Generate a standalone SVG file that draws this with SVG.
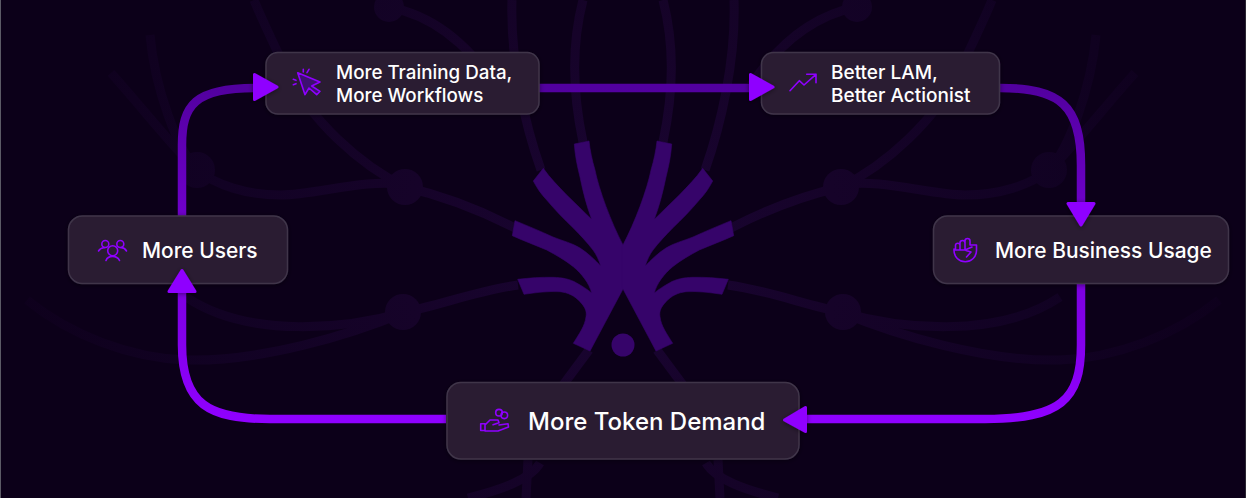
<svg xmlns="http://www.w3.org/2000/svg" width="1246" height="498" viewBox="0 0 1246 498">
<defs>
<linearGradient id="flow" gradientUnits="userSpaceOnUse" x1="0" y1="88" x2="0" y2="420"><stop offset="0" stop-color="#52009f"/><stop offset="0.5" stop-color="#7800d8"/><stop offset="1" stop-color="#8f00ff"/></linearGradient>
<radialGradient id="fade" gradientUnits="userSpaceOnUse" cx="623" cy="249" r="620"><stop offset="0" stop-color="#1a0433"/><stop offset="0.35" stop-color="#160329"/><stop offset="0.65" stop-color="#120224"/><stop offset="1" stop-color="#0e001c"/></radialGradient>
<filter id="sh" x="-40%" y="-40%" width="180%" height="180%"><feDropShadow dx="0" dy="1" stdDeviation="2.500" flood-color="#000" flood-opacity="0.45"/></filter>
<g id="half">
<path class="faint" d="M515,228C480,210 440,195 405,187C360,165 310,120 286,70C272,40 262,20 254,0"/>
<path class="faint" d="M405,185C366,178 316,195 281,195C246,195 216,185 197,170"/>
<path class="faint" d="M197,170C178,150 155,90 150,35"/>
<path class="faint" d="M197,170C175,150 140,105 111,73"/>
<path class="faint" d="M518,285C480,290 440,305 405,312"/>
<path class="faint" d="M405,312C350,328 250,340 186,297"/>
<path class="faint" d="M405,312C350,335 260,362 186,360C130,358 70,335 27,300"/>
<path class="faint" d="M541,170C525,125 510,60 512,0"/>
<path class="faint" d="M583,142C574,100 570,50 583,0"/>
<path class="faint" d="M389,7C430,15 465,40 495,85"/>
<path class="faint" d="M589,350L563,385"/>
<path class="faint" d="M540,463C530,480 500,490 468,498"/>
<path class="faint" d="M528,460L526,498"/>
<circle class="fd" cx="405" cy="187" r="18"/><circle class="fd" cx="403" cy="312" r="18"/><circle class="fd" cx="197" cy="170" r="18"/><circle class="fd" cx="389" cy="7" r="15"/>
<path class="logo" d="M624,247L623,245C611,222 599,190 595,170C592,160 590,150 589,141L574.300,144C575,155 577,165 580,177C583,192 587,207 591.700,219.300C583,211 575,203 566.700,195C558,186 550,178 543.300,168.300L533.300,181C537,188 541,194 546.700,200C555,210 564,219 573.300,228C580,235 587,242 593,250C596,254 599,260 600.700,266C595,260 588,253 580,248C572,243 563,241 553,237C540,231 528,226 515,220.700L512.300,235.700C524,241 535,245 546.700,250C556,255 565,260 573.300,266.700C582,274 589,283 591.700,293C587,289 582,286 576.700,283C570,279 562,277.500 553,277.300C541,277 530,278 517.700,279.300L524,294.300C536,292.500 548,291 560,291.700C568,292.500 575,296 580,301.700C585,307 587,311 586,316.700C585,326 579,334 573.300,343.300L590,351L623,289L624,287Z"/>
</g>
</defs>
<style>
.faint{fill:none;stroke:url(#fade);stroke-width:9}
.fd{fill:url(#fade)}
.logo{fill:#36046a;stroke:#36046a;stroke-width:0.600;stroke-linejoin:round}
.box{fill:#2a1c32;stroke:#40364a;stroke-width:1.500;filter:url(#sh)}
.lbl{font-family:Inter,"Liberation Sans",sans-serif;font-weight:500;fill:#fff}
.ic{fill:none;stroke:#8f00ff;stroke-width:1.600;stroke-linecap:round;stroke-linejoin:round}
.icf{fill:#3d1070;stroke:#8f00ff;stroke-width:1.600;stroke-linejoin:round}
.flow{fill:none;stroke:url(#flow);stroke-width:8.500}
.head{fill:#8f00ff;stroke:#8f00ff;stroke-width:3;stroke-linejoin:round;filter:url(#sh)}
</style>
<rect width="1246" height="498" fill="#0c0019"/>
<rect width="1" height="498" fill="#5c5a66"/>
<rect x="1245" width="1" height="498" fill="#2a2632"/>
<g id="backdrop">
<use href="#half"/>
<use href="#half" transform="matrix(-1 0 0 1 1246 0)"/>
<circle cx="623" cy="345" r="11.500" fill="#36046a"/>
</g>
<g id="connectors">
<path class="flow" d="M182,216V145C182,105 195,88 255,88"/>
<path class="flow" d="M539,88H752"/>
<path class="flow" d="M1000,88C1060,88 1081,105 1081,165V205"/>
<path class="flow" d="M1081,284V345C1081,400 1060,419 985,419H805"/>
<path class="flow" d="M446,419H270C210,419 182,405 182,345V290"/>
</g>
<g id="node-training"><rect class="box" x="266" y="52.500" width="273" height="61.500" rx="12"/>
<path class="icf" d="M297.700,72.700L320,82L311.700,86L320,91.300L316.700,94.700L309,88L305,94.700Z"/>
<path class="ic" d="M303.300,69.300V72M309,69.300L307,72.700M293.300,79.300L296,80.300M293.300,84.700L296,83.700"/>
<text class="lbl" font-size="18.800" x="336" y="78.500">More Training Data,</text><text class="lbl" font-size="18.800" x="336" y="101.500">More Workflows</text></g>
<g id="node-lam"><rect class="box" x="761.500" y="52.500" width="238" height="61.500" rx="12"/>
<path class="ic" d="M790,90.700L799.300,80.700L804,85L816,74.300M806.700,74.300H816V82.700"/>
<text class="lbl" font-size="19" x="831" y="78.500">Better LAM,</text><text class="lbl" font-size="19" x="831" y="101.500">Better Actionist</text></g>
<g id="node-business"><rect class="box" x="933.500" y="216" width="295" height="67.500" rx="14"/>
<path class="ic" d="M954,249V250.500A11,11 0 0 0 976.500,250.500V245H970V241A2.500,2.500 0 0 0 965,241V243A2.500,2.500 0 0 0 960,243V245A2.300,2.300 0 0 0 955.500,245V250M954,250H965L972,247M966,250.500L971,252L966.500,257M960,245V250M965,243V250"/>
<text class="lbl" font-size="20.900" x="995" y="257.500">More Business Usage</text></g>
<g id="node-users"><rect class="box" x="68.500" y="216" width="219" height="67.500" rx="14"/>
<circle class="ic" cx="112.700" cy="250.700" r="5"/><path class="ic" d="M106,260.500C108,255 117,255 119.500,260.500"/><circle class="ic" cx="105.300" cy="244" r="3.500"/><circle class="ic" cx="120.300" cy="244" r="3.500"/><path class="ic" d="M98.500,251C100,248.500 102,247.500 104.500,247.700M126.500,251C125,248.500 123,247.500 121,247.700"/>
<text class="lbl" font-size="20.900" x="142" y="257.500">More Users</text></g>
<g id="node-token"><rect class="box" x="447" y="382.500" width="352" height="76.500" rx="14"/>
<path class="ic" d="M480.700,423.700H485V430.500H480.700ZM485,425L490,420H498L499,422.700L493,424.700M499,425L508,423.700L508.500,427L498,431H485"/><circle class="ic" cx="499" cy="412.700" r="3.300"/><circle class="ic" cx="504.300" cy="415.300" r="3.300"/>
<text class="lbl" font-size="24" x="528" y="429.500">More Token Demand</text></g>
<g id="arrowheads">
<path class="head" d="M254.500,74.500V99.500L277,87Z"/>
<path class="head" d="M750.500,74.500V99.500L773,87Z"/>
<path class="head" d="M1068,203.500H1094L1081,225Z"/>
<path class="head" d="M805.500,407.500V431.500L784.500,420Z"/>
<path class="head" d="M169,291.500H195L182,270.500Z"/>
</g>
</svg>
